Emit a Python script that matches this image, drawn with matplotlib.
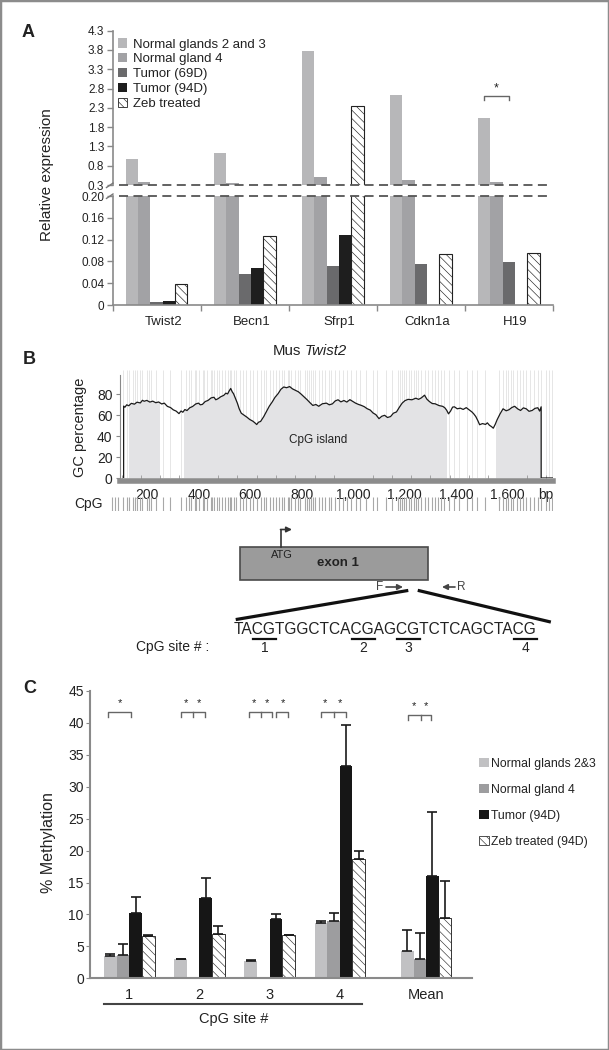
import matplotlib
matplotlib.use('Agg')
import matplotlib.pyplot as plt
import matplotlib.transforms as mtransforms
from matplotlib.patches import Patch, Rectangle, FancyArrowPatch
from matplotlib.lines import Line2D
import numpy as np

plt.rcParams['font.family'] = ['Liberation Sans', 'DejaVu Sans']
plt.rcParams['hatch.linewidth'] = 0.45
plt.rcParams['text.color'] = '#222222'
plt.rcParams['xtick.color'] = '#888888'
plt.rcParams['ytick.color'] = '#888888'
plt.rcParams['xtick.labelcolor'] = '#222222'
plt.rcParams['ytick.labelcolor'] = '#222222'

# ---------------- panel A : relative expression
genes = ['Twist2', 'Becn1', 'Sfrp1', 'Cdkn1a', 'H19']
a_labels = ['Normal glands 2 and 3', 'Normal gland 4', 'Tumor (69D)', 'Tumor (94D)', 'Zeb treated']
normal_23 = [0.97, 1.12, 3.78, 2.64, 2.03]
normal_4 = [0.37, 0.34, 0.50, 0.43, 0.37]
tumor_69d = [0.005, 0.056, 0.072, 0.076, 0.079]
tumor_94d = [0.007, 0.068, 0.128, 0.0, 0.0]
zeb_treated = [0.038, 0.127, 2.35, 0.094, 0.096]
upper_ticks = [0.3, 0.8, 1.3, 1.8, 2.3, 2.8, 3.3, 3.8, 4.3]
lower_ticks = [0, 0.04, 0.08, 0.12, 0.16, 0.20]
lower_ticklabels = ['0', '0.04', '0.08', '0.12', '0.16', '0.20']

# ---------------- panel B : GC content of Mus Twist2
gc_bp = [108, 108, 113, 120, 128, 138, 150, 160, 173, 181, 188, 198, 210, 221, 233, 244,
         256, 266, 278, 290, 301, 312, 323, 331, 338, 346, 354, 365, 376, 388, 399, 406,
         414, 425, 436, 448, 459, 466, 474, 486, 497, 505, 512, 518, 524, 530, 535, 542,
         550, 557, 565, 576, 587, 598, 610, 618, 625, 632, 640, 652, 663, 674, 685, 696,
         708, 719, 730, 741, 753, 764, 776, 787, 798, 810, 821, 832, 843, 855, 866, 880,
         896, 907, 919, 930, 941, 952, 964, 975, 987, 998, 1009, 1020, 1032, 1043, 1054,
         1066, 1077, 1088, 1100, 1111, 1122, 1133, 1145, 1156, 1168, 1179, 1190, 1201,
         1213, 1228, 1243, 1254, 1265, 1271, 1277, 1286, 1296, 1307, 1318, 1333, 1348,
         1356, 1363, 1370, 1378, 1386, 1393, 1404, 1416, 1427, 1439, 1450, 1461, 1468,
         1476, 1484, 1491, 1502, 1514, 1521, 1529, 1537, 1544, 1552, 1559, 1570, 1582,
         1594, 1605, 1616, 1627, 1639, 1650, 1661, 1672, 1683, 1695, 1706, 1717, 1724,
         1730, 1730, 1780]
gc_pct = [0, 68.6, 67.5, 69.8, 68.9, 71.2, 70.4, 72.3, 71.6, 74.1, 73.2, 74.0, 72.4, 73.3,
          71.8, 72.5, 70.6, 71.4, 68.3, 67.2, 65.0, 63.8, 61.4, 63.9, 62.7, 65.3, 64.3, 67.0,
          68.2, 70.6, 71.4, 69.8, 70.2, 72.9, 74.0, 76.4, 77.0, 74.6, 75.5, 77.6, 78.8, 80.9,
          80.2, 83.0, 85.4, 82.1, 80.4, 76.2, 71.3, 66.0, 61.8, 59.9, 58.0, 55.8, 54.2, 52.6,
          51.0, 53.2, 53.9, 58.4, 63.4, 68.5, 72.4, 76.9, 80.4, 84.6, 86.8, 86.1, 87.2, 85.0,
          83.5, 82.2, 79.9, 77.1, 74.6, 71.8, 69.2, 70.1, 68.4, 70.8, 71.4, 69.8, 70.7, 73.5,
          74.6, 72.6, 73.9, 72.4, 74.7, 73.1, 71.4, 70.2, 69.2, 68.0, 66.1, 64.8, 62.0, 60.4,
          56.6, 58.9, 59.8, 57.7, 58.6, 61.8, 63.0, 67.4, 71.4, 73.8, 75.0, 74.6, 76.1, 75.0,
          76.5, 77.8, 79.0, 75.2, 72.9, 71.0, 70.8, 69.1, 68.3, 66.9, 64.6, 61.2, 63.8, 67.6,
          67.9, 66.0, 66.6, 65.4, 67.1, 65.1, 63.0, 61.2, 58.6, 54.7, 50.8, 51.9, 51.1, 52.6,
          50.3, 49.0, 47.5, 51.4, 55.6, 61.0, 66.0, 64.1, 65.1, 67.2, 68.4, 65.9, 64.4, 66.9,
          66.0, 63.6, 64.4, 66.4, 67.0, 63.8, 67.9, 0, 0]
island_start = [130, 344, 1554]
island_end = [246, 1361, 1732]
cpg_sites = [62, 75, 88, 104, 121, 130, 146, 152, 160, 171, 178, 199, 206, 214, 232, 262,
             290, 331, 352, 361, 370, 384, 391, 402, 415, 421, 433, 446, 452, 460, 471,
             479, 490, 503, 512, 520, 527, 538, 546, 559, 571, 585, 598, 612, 628, 641,
             655, 662, 677, 690, 701, 713, 722, 731, 745, 752, 760, 774, 786, 795, 812,
             820, 827, 835, 843, 851, 866, 880, 892, 907, 915, 928, 946, 962, 975, 990,
             1010, 1027, 1048, 1075, 1092, 1128, 1150, 1172, 1181, 1190, 1198, 1206, 1215,
             1223, 1236, 1244, 1252, 1264, 1278, 1290, 1305, 1318, 1330, 1342, 1351, 1372,
             1390, 1412, 1440, 1463, 1482, 1510, 1568, 1580, 1592, 1601, 1614, 1622, 1636,
             1648, 1660, 1671, 1688, 1702, 1716, 1731, 1748, 1762, 1774]
gc_xticks = [200, 400, 600, 800, 1000, 1200, 1400, 1600, 1748]
gc_xticklabels = ['200', '400', '600', '800', '1,000', '1,200', '1,400', '1,600', 'bp']
gc_yticks = [0, 20, 40, 60, 80]
sequence = 'TACGTGGCTCACGAGCGTCTCAGCTACG'

# ---------------- panel C : % methylation
sites = ['1', '2', '3', '4', 'Mean']
c_labels = ['Normal glands 2&3', 'Normal gland 4', 'Tumor (94D)', 'Zeb treated (94D)']
c_normal_23 = [3.5, 2.95, 2.65, 8.6, 4.35]
c_normal_23_err = [0.3, 0.05, 0.25, 0.3, 3.2]
c_normal_4 = [3.6, 0, 0, 9.0, 2.95]
c_normal_4_err = [1.7, 0, 0, 1.25, 4.1]
c_tumor = [10.3, 12.6, 9.35, 33.3, 16.1]
c_tumor_err = [2.4, 3.1, 0.7, 6.4, 10.0]
c_zeb = [6.55, 7.0, 6.75, 18.7, 9.5]
c_zeb_err = [0.2, 1.2, 0.1, 1.2, 5.7]
c_yticks = [0, 5, 10, 15, 20, 25, 30, 35, 40, 45]

# significance brackets (site index, left, right, middle leg, stars)
sig_site = [0, 1, 2, 2, 3, 4]
sig_left = [-0.31, -0.265, -0.30, 0.09, -0.27, -0.26]
sig_right = [0.03, 0.08, 0.04, 0.26, 0.09, 0.07]
sig_mid = [None, -0.088, -0.13, None, -0.08, -0.08]
sig_stars = [[-0.14], [-0.19, -0.005], [-0.22, -0.04], [0.19], [-0.21, 0.0], [-0.18, 0.0]]

W, H = 609, 1050
fig = plt.figure(figsize=(W / 100, H / 100), dpi=100)


def fx(px):
    return px / W


def fy(py):
    return 1 - py / H


def axes_px(left, top, right, bottom):
    return fig.add_axes([fx(left), fy(bottom), (right - left) / W, (bottom - top) / H])


def fig_arrow(x0, y0, x1, y1, color):
    fig.add_artist(FancyArrowPatch((fx(x0), fy(y0)), (fx(x1), fy(y1)), transform=fig.transFigure,
                                   arrowstyle='-|>', color=color, lw=1.2, mutation_scale=8,
                                   shrinkA=0, shrinkB=0))


c_ng23 = '#b7b7b9'
c_ng4 = '#a2a2a5'
c_t69 = '#6a6a6c'
c_t94 = '#1e1e1e'
hatch = '\\\\\\\\'

# ======================= panel A =======================
ax_up = axes_px(112.6, 30.7, 553, 185)
ax_lo = axes_px(112.6, 196, 553, 305)
x = np.arange(len(genes))
bw = 0.14
series = [normal_23, normal_4, tumor_69d, tumor_94d, zeb_treated]
colors = [c_ng23, c_ng4, c_t69, c_t94, 'white']
for ax in (ax_up, ax_lo):
    for k, (vals, col) in enumerate(zip(series, colors)):
        if k == 4:
            ax.bar(x + (k - 2) * bw, vals, bw, color='white', edgecolor='#222222',
                   linewidth=0.8, hatch=hatch, zorder=2)
        else:
            ax.bar(x + (k - 2) * bw, vals, bw, color=col, linewidth=0, zorder=2)
    ax.set_xlim(-0.5, 4.5)
    for s in ('top', 'right'):
        ax.spines[s].set_visible(False)
    ax.spines['left'].set_color('#8a8a8a')
    ax.spines['left'].set_linewidth(1.2)
    ax.tick_params(axis='y', length=4, width=1, labelsize=8.5, pad=2)

ax_up.set_ylim(0.3, 4.3)
ax_up.set_yticks(upper_ticks)
ax_up.set_yticklabels([f'{t:.1f}' for t in upper_ticks])
ax_up.spines['bottom'].set_visible(False)
ax_up.set_xticks([])
ax_up.axhline(0.3, 0.0145, 0.989, color='#555555', lw=1.3, ls=(0, (5, 3)), clip_on=False, zorder=3)

ax_lo.set_ylim(0, 0.2)
ax_lo.set_yticks(lower_ticks)
ax_lo.set_yticklabels(lower_ticklabels)
ax_lo.spines['bottom'].set_color('#8a8a8a')
ax_lo.spines['bottom'].set_linewidth(1.2)
ax_lo.set_xticks(np.arange(-0.5, 5, 1.0))
ax_lo.set_xticklabels([])
ax_lo.set_xticks(x + 0.075, minor=True)
ax_lo.set_xticklabels(genes, minor=True, fontsize=9.5)
ax_lo.tick_params(axis='x', which='major', length=4, width=1)
ax_lo.tick_params(axis='x', which='minor', length=0, pad=8)
ax_lo.axhline(0.2, 0.0145, 0.989, color='#555555', lw=1.3, ls=(0, (5, 3)), clip_on=False, zorder=3)

# axis break marks
for y0 in (185.3, 196.2):
    fig.add_artist(Line2D([fx(106.5), fx(113)], [fy(y0 + 2.2), fy(y0 - 2.2)],
                          color='#777777', lw=1.0))

handles = [Patch(facecolor=c, edgecolor='none') for c in colors[:4]]
handles.append(Patch(facecolor='white', edgecolor='#222222', hatch=hatch, linewidth=0.6))
ax_up.legend(handles, a_labels, loc='upper left', bbox_to_anchor=(0.0, 0.985),
             frameon=False, fontsize=9.5, handlelength=0.7, handleheight=0.7,
             handletextpad=0.45, labelspacing=0.2, borderaxespad=0)

# significance mark over H19
ax_up.plot([4 - 0.28, 4 - 0.28, 4.0, 4.0], [2.5, 2.6, 2.6, 2.5], color='#666666', lw=1)
ax_up.text(4 - 0.14, 2.8, '*', ha='center', va='center', fontsize=9)

fig.text(fx(47), fy(175), 'Relative expression', rotation=90, ha='center', va='center', fontsize=11)
fig.text(fx(28.5), fy(32.5), 'A', fontsize=13, fontweight='bold', ha='center', va='center')

# ======================= panel B =======================
fig.text(fx(29.5), fy(359.5), 'B', fontsize=13, fontweight='bold', ha='center', va='center')
fig.text(fx(301.5), fy(350.7), 'Mus', fontsize=10.8, ha='right', va='center')
fig.text(fx(304.5), fy(350.7), 'Twist2', fontsize=10.8, style='italic', ha='left', va='center')

ax_gc = axes_px(119.5, 370, 553, 478)
gc_xlim = (92, 1776)
ax_gc.set_xlim(*gc_xlim)
ax_gc.set_ylim(0, 103)
trans = mtransforms.blended_transform_factory(ax_gc.transData, ax_gc.transAxes)
ax_gc.vlines(cpg_sites, 0, 1, transform=trans, color='#e6e6e6', lw=0.7, zorder=0)
for s, e in zip(island_start, island_end):
    poly = ax_gc.fill_between(gc_bp, 0, gc_pct, color='#e3e3e5', lw=0, zorder=1)
    clip = Rectangle((s, 0), e - s, 110, transform=ax_gc.transData)
    poly.set_clip_path(clip)
ax_gc.plot(gc_bp, gc_pct, color='#1a1a1a', lw=0.9, zorder=3)
ax_gc.text(862, 36, 'CpG island', ha='center', va='center', fontsize=8.5, zorder=4)
for s in ('top', 'right'):
    ax_gc.spines[s].set_visible(False)
ax_gc.spines['left'].set_color('#888888')
ax_gc.spines['left'].set_bounds(0, 98)
ax_gc.spines['bottom'].set_color('#8c8c8c')
ax_gc.spines['bottom'].set_linewidth(4)
ax_gc.spines['bottom'].set_position(('outward', 2))
ax_gc.set_yticks(gc_yticks)
ax_gc.tick_params(axis='y', length=3, labelsize=10, pad=2)
ax_gc.set_xticks(gc_xticks)
ax_gc.set_xticklabels(gc_xticklabels)
ax_gc.tick_params(axis='x', length=0, labelsize=10, pad=5)
ax_gc.set_xticks(np.arange(100, 1776, 75), minor=True)
ax_gc.tick_params(axis='x', which='minor', direction='in', length=4, color='#999999')
fig.text(fx(80), fy(427), 'GC percentage', rotation=90, ha='center', va='center', fontsize=10.5)

# CpG site row
row_left = 110
ax_row = axes_px(row_left, 497, 553, 511)
ax_row.set_xlim(gc_xlim[0] - (119.5 - row_left) * (gc_xlim[1] - gc_xlim[0]) / (553 - 119.5), gc_xlim[1])
ax_row.set_ylim(0, 1)
ax_row.vlines(cpg_sites, 0, 1, color='#a8a8a8', lw=0.8)
ax_row.axis('off')
fig.text(fx(88.5), fy(504), 'CpG', ha='center', va='center', fontsize=10)

# exon diagram
fig.add_artist(Rectangle((fx(239.6), fy(580)), (428 - 239.6) / W, (580 - 547.3) / H,
                         facecolor='#9b9b9b', edgecolor='#4a4a4a', lw=1.2))
fig.text(fx(281.5), fy(554.5), 'ATG', ha='center', va='center', fontsize=8)
fig.text(fx(337.5), fy(563.5), 'exon 1', ha='center', va='center', fontsize=9.5, fontweight='bold')
fig.add_artist(Line2D([fx(281), fx(281)], [fy(547.3), fy(529.5)], color='#333333', lw=1.2))
fig_arrow(280.5, 529.5, 292, 529.5, '#333333')
fig.text(fx(380), fy(587), 'F', ha='center', va='center', fontsize=8.5, color='#444444')
fig.text(fx(461.5), fy(587), 'R', ha='center', va='center', fontsize=8.5, color='#444444')
fig_arrow(386, 587, 403, 587, '#444444')
fig_arrow(455, 587, 442, 587, '#444444')
fig.add_artist(Line2D([fx(406.7), fx(237.3)], [fy(590.7), fy(619.3)], color='#111111', lw=2.3))
fig.add_artist(Line2D([fx(419.3), fx(549.3)], [fy(590.7), fy(621.7)], color='#111111', lw=2.3))

seq_x0, seq_y = 234, 630
fig.text(fx(seq_x0), fy(seq_y), sequence, ha='left', va='center', fontsize=11.2)
renderer = fig.canvas.get_renderer()


def text_width(s):
    t = fig.text(0, 0, s, fontsize=11.2)
    w = t.get_window_extent(renderer).width
    t.remove()
    return w


site_no = 0
for i in range(len(sequence) - 1):
    if sequence[i:i + 2] == 'CG':
        site_no += 1
        a = seq_x0 + text_width(sequence[:i])
        b = seq_x0 + text_width(sequence[:i + 2])
        fig.add_artist(Line2D([fx(a), fx(b)], [fy(638.5), fy(638.5)], color='#111111', lw=1.6))
        fig.text(fx((a + b) / 2), fy(647.5), str(site_no), ha='center', va='center', fontsize=10)
fig.text(fx(173), fy(647.5), 'CpG site # :', ha='center', va='center', fontsize=10)

# ======================= panel C =======================
fig.text(fx(29.5), fy(688.5), 'C', fontsize=13, fontweight='bold', ha='center', va='center')
ax_c = axes_px(90, 691, 471.8, 978.3)
cpos = np.arange(len(sites), dtype=float)
cpos[4] += 0.23
cbw = 0.18
c_series = [(c_normal_23, c_normal_23_err, '#c1c1c3'), (c_normal_4, c_normal_4_err, '#9d9d9f'),
            (c_tumor, c_tumor_err, '#161616'), (c_zeb, c_zeb_err, 'white')]
c_handles = []
for k, (vals, errs, col) in enumerate(c_series):
    xs = cpos + (k - 1.5) * cbw
    if col == 'white':
        ax_c.bar(xs, vals, cbw, color='white', edgecolor='#333333', lw=0.7, hatch=hatch, zorder=2)
        c_handles.append(Patch(facecolor='white', edgecolor='#333333', hatch=hatch, lw=0.6))
    else:
        ax_c.bar(xs, vals, cbw, color=col, lw=0, zorder=2)
        c_handles.append(Patch(facecolor=col, edgecolor='none'))
    vals = np.array(vals)
    errs = np.array(errs)
    m = vals > 0
    ax_c.errorbar(xs[m], vals[m], yerr=[np.zeros(m.sum()), errs[m]], fmt='none',
                  ecolor='#1a1a1a', elinewidth=1.2, capsize=3.5, capthick=1.2, zorder=3)

ax_c.set_xlim(-0.56, 4.88)
ax_c.set_ylim(0, 45)
ax_c.set_yticks(c_yticks)
ax_c.tick_params(axis='y', length=3, labelsize=10, pad=1.5)
ax_c.set_xticks(cpos)
ax_c.set_xticklabels(sites, fontsize=10.5)
ax_c.tick_params(axis='x', length=0, pad=7)
for s in ('top', 'right'):
    ax_c.spines[s].set_visible(False)
for s in ('left', 'bottom'):
    ax_c.spines[s].set_color('#8a8a8a')
    ax_c.spines[s].set_linewidth(1.5)

for site, l, r, mid, stars in zip(sig_site, sig_left, sig_right, sig_mid, sig_stars):
    yb = 41.2 if site == 4 else 41.65
    yl = yb - 0.75
    p = cpos[site]
    ax_c.plot([p + l, p + l, p + r, p + r], [yl, yb, yb, yl], color='#666666', lw=1)
    if mid is not None:
        ax_c.plot([p + mid, p + mid], [yb, yl], color='#666666', lw=1)
    for st in stars:
        ax_c.text(p + st, yb + 1.45, '*', ha='center', va='center', fontsize=8)

tc = mtransforms.blended_transform_factory(ax_c.transData, ax_c.transAxes)
ax_c.add_line(Line2D([-0.36, 3.31], [-0.089, -0.089], transform=tc, color='#444444',
                     lw=1.5, clip_on=False))
ax_c.text(1.49, -0.142, 'CpG site #', transform=tc, ha='center', va='center', fontsize=10.5)
fig.text(fx(48.5), fy(843), '% Methylation', rotation=90, ha='center', va='center', fontsize=11.5)

fig.legend(c_handles, c_labels, loc='upper left', bbox_to_anchor=(fx(474), fy(753)),
           frameon=False, fontsize=8.8, handlelength=0.8, handleheight=0.8,
           handletextpad=0.2, labelspacing=1.15, borderaxespad=0)

# outer frame
fig.add_artist(Rectangle((0, 0), 1, 1, transform=fig.transFigure, fill=False,
                         edgecolor='#8c8c8c', lw=2.5))

fig.savefig('out.png', dpi=100)
